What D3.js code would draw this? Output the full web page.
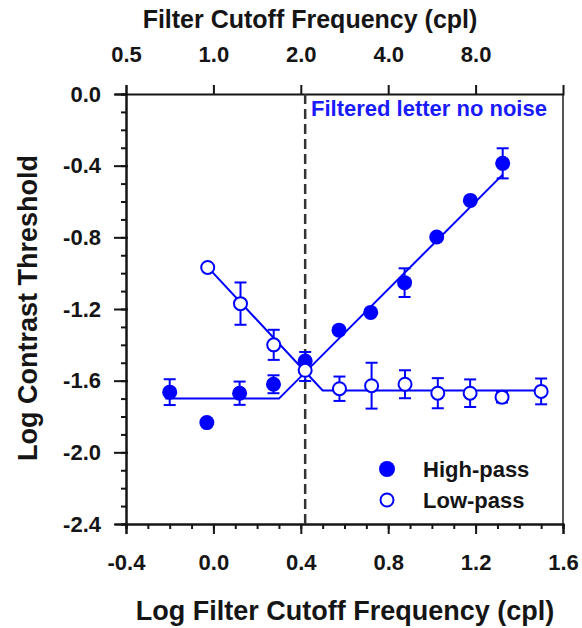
<!DOCTYPE html>
<html>
<head>
<meta charset="utf-8">
<script src="https://cdn.jsdelivr.net/npm/d3@7"></script>
<style>
  html, body { margin: 0; padding: 0; background: #fff; }
  svg { display: block; font-family: "Liberation Sans", Arial, sans-serif; font-weight: bold; }
</style>
</head>
<body>
<div id="chart"></div>
<script>
// ---- data ----
const highX = [-0.20, -0.03, 0.12, 0.275, 0.42, 0.575, 0.72, 0.875, 1.022, 1.176, 1.324];
const highY = [-1.664, -1.834, -1.67, -1.62, -1.49, -1.318, -1.219, -1.053, -0.798, -0.594, -0.387];
const highErr = [0.072, 0, 0.065, 0.05, 0.05, 0, 0, 0.08, 0, 0, 0.084];

const lowX = [-0.026, 0.124, 0.276, 0.42, 0.577, 0.724, 0.877, 1.027, 1.175, 1.321, 1.50];
const lowY = [-0.968, -1.17, -1.40, -1.542, -1.645, -1.628, -1.62, -1.67, -1.67, -1.692, -1.66];
const lowErr = [0, 0.118, 0.084, 0.06, 0.068, 0.128, 0.078, 0.084, 0.077, 0.03, 0.072];

const highFitX = [-0.22, 0.30, 1.324];
const highFitY = [-1.70, -1.70, -0.45];
const lowFitX = [-0.026, 0.50, 1.50];
const lowFitY = [-0.966, -1.655, -1.655];

const cutoffX = 0.42;

const xTicks = [-0.4, 0.0, 0.4, 0.8, 1.2, 1.6];
const xTickLabels = ["-0.4", "0.0", "0.4", "0.8", "1.2", "1.6"];
const yTicks = [0.0, -0.4, -0.8, -1.2, -1.6, -2.0, -2.4];
const yTickLabels = ["0.0", "-0.4", "-0.8", "-1.2", "-1.6", "-2.0", "-2.4"];
const topTicks = [0.5, 1, 2, 4, 8];
const topTickLabels = ["0.5", "1.0", "2.0", "4.0", "8.0"];

const seriesNames = ["High-pass", "Low-pass"];

(function () {
// ---- layout ----
const W = 582, H = 628;
const pL = 126, pR = 563, pT = 94, pB = 524;
const blue = "#0000ff";
const ink = "#151515";

const svg = d3.select("#chart").append("svg").attr("width", W).attr("height", H);

const x = d3.scaleLinear().domain([-0.4, 1.6]).range([pL, pR]);
const y = d3.scaleLinear().domain([-2.4, 0]).range([pB, pT]);
const xTop = d3.scaleLog().base(2).domain([0.5, 16]).range([pL, pR]);

const minorX = d3.range(-4, 17).map(i => i / 10);
const minorY = d3.range(-24, 1).map(i => i / 10);

function styleAxis(g) {
  g.select(".domain").attr("stroke", ink).attr("stroke-width", 2);
  g.selectAll(".tick line").attr("stroke", ink).attr("stroke-width", 2);
  g.selectAll("text").attr("fill", ink).style("font-size", "22px").style("font-weight", "bold")
    .style("font-family", "'Liberation Sans', Arial, sans-serif");
}

// right frame line
svg.append("line").attr("x1", pR).attr("x2", pR).attr("y1", pT).attr("y2", pB)
  .attr("stroke", "#555").attr("stroke-width", 2);

// minor ticks bottom
svg.append("g").attr("transform", `translate(0,${pB})`)
  .call(d3.axisBottom(x).tickValues(minorX).tickSize(5).tickFormat(""))
  .call(styleAxis);
// major bottom
const gx = svg.append("g").attr("transform", `translate(0,${pB})`)
  .call(d3.axisBottom(x).tickValues(xTicks).tickSize(10).tickFormat((d, i) => xTickLabels[i]))
  .call(styleAxis);
gx.selectAll("text").attr("y", 46).attr("dy", 0);

// minor left
svg.append("g").attr("transform", `translate(${pL},0)`)
  .call(d3.axisLeft(y).tickValues(minorY).tickSize(5).tickFormat(""))
  .call(styleAxis);
const gy = svg.append("g").attr("transform", `translate(${pL},0)`)
  .call(d3.axisLeft(y).tickValues(yTicks).tickSize(11).tickPadding(14).tickFormat((d, i) => yTickLabels[i]))
  .call(styleAxis);
gy.selectAll(".tick line").attr("x2", -12).attr("x1", 2);

// top axis
const gt = svg.append("g").attr("transform", `translate(0,${pT})`)
  .call(d3.axisTop(xTop).tickValues(topTicks).tickSize(9).tickFormat((d, i) => topTickLabels[i]))
  .call(styleAxis);
gt.selectAll("text").attr("y", -32).attr("dy", 0);

// dashed cutoff line
svg.append("line").attr("x1", x(cutoffX)).attr("x2", x(cutoffX)).attr("y1", pT).attr("y2", pB)
  .attr("stroke", "#333").attr("stroke-width", 2.5).attr("stroke-dasharray", "10,5");

// fit lines
const line = d3.line().x(d => x(d[0])).y(d => y(d[1]));
svg.append("path").datum(highFitX.map((v, i) => [v, highFitY[i]]))
  .attr("d", line).attr("fill", "none").attr("stroke", blue).attr("stroke-width", 2);
svg.append("path").datum(lowFitX.map((v, i) => [v, lowFitY[i]]))
  .attr("d", line).attr("fill", "none").attr("stroke", blue).attr("stroke-width", 2);

// error bars
function errBars(xs, ys, es) {
  const data = xs.map((v, i) => ({ x: v, y: ys[i], e: es[i] })).filter(d => d.e > 0);
  const g = svg.append("g").attr("stroke", blue).attr("stroke-width", 2).attr("fill", "none");
  data.forEach(d => {
    const cx = x(d.x), y1 = y(d.y + d.e), y2 = y(d.y - d.e);
    g.append("line").attr("x1", cx).attr("x2", cx).attr("y1", y1).attr("y2", y2);
    g.append("line").attr("x1", cx - 6).attr("x2", cx + 6).attr("y1", y1).attr("y2", y1);
    g.append("line").attr("x1", cx - 6).attr("x2", cx + 6).attr("y1", y2).attr("y2", y2);
  });
}
errBars(highX, highY, highErr);
errBars(lowX, lowY, lowErr);

// markers
svg.append("g").selectAll("circle").data(highX.map((v, i) => [v, highY[i]])).join("circle")
  .attr("cx", d => x(d[0])).attr("cy", d => y(d[1])).attr("r", 7.5).attr("fill", blue);
svg.append("g").selectAll("circle").data(lowX.map((v, i) => [v, lowY[i]])).join("circle")
  .attr("cx", d => x(d[0])).attr("cy", d => y(d[1])).attr("r", 6.5)
  .attr("fill", "#fff").attr("stroke", blue).attr("stroke-width", 2);

// annotation
svg.append("text").attr("x", 311).attr("y", 116).attr("fill", "#1a1aff")
  .style("font-size", "22px").text("Filtered letter no noise");

// legend
const legY = [469, 500];
svg.append("circle").attr("cx", 387).attr("cy", legY[0]).attr("r", 8).attr("fill", blue);
svg.append("circle").attr("cx", 387).attr("cy", legY[1]).attr("r", 6.5).attr("fill", "#fff")
  .attr("stroke", blue).attr("stroke-width", 2);
seriesNames.forEach((n, i) => {
  svg.append("text").attr("x", 423).attr("y", legY[i] + 8).attr("fill", ink)
    .style("font-size", "22px").text(n);
});

// axis titles
svg.append("text").attr("x", 310).attr("y", 28).attr("text-anchor", "middle").attr("fill", ink)
  .style("font-size", "25px").text("Filter Cutoff Frequency (cpl)");
svg.append("text").attr("x", 345).attr("y", 620).attr("text-anchor", "middle").attr("fill", ink)
  .style("font-size", "27px").text("Log Filter Cutoff Frequency (cpl)");
svg.append("text").attr("transform", "translate(37,308) rotate(-90)").attr("text-anchor", "middle")
  .attr("fill", ink).style("font-size", "27px").text("Log Contrast Threshold");
})();
</script>
</body>
</html>
